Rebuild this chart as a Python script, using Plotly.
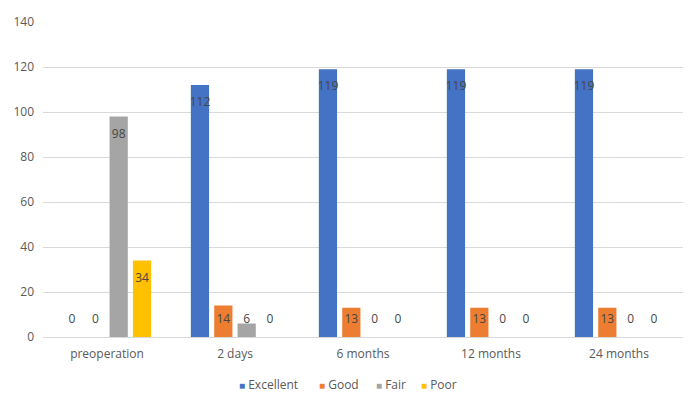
import plotly.graph_objects as go

categories = ["preoperation", "2 days", "6 months", "12 months", "24 months"]
series_names = ["Excellent", "Good", "Fair", "Poor"]
excellent = [0, 112, 119, 119, 119]
good = [0, 14, 13, 13, 13]
fair = [98, 6, 0, 0, 0]
poor = [34, 0, 0, 0, 0]
y_ticks = [0, 20, 40, 60, 80, 100, 120, 140]

colors = ["#4472C4", "#ED7D31", "#A5A5A5", "#FFC000"]
legend_x = [0.2438, 0.3688, 0.4578, 0.5281]
legend_ids = ["legend", "legend2", "legend3", "legend4"]
font_family = "Open Sans, Noto Sans, sans-serif"

# label placement, in axis units: just inside the bar end, but never lower than a floor
LABEL_INSET = 8.0
LABEL_FLOOR = 7.5

fig = go.Figure()
for i, (name, vals, col, lid) in enumerate(zip(series_names, [excellent, good, fair, poor],
                                               colors, legend_ids)):
    fig.add_trace(go.Bar(
        x=categories, y=vals, name=name,
        marker=dict(color=col, line=dict(width=0)),
        offsetgroup=str(i),
        showlegend=False, hoverinfo="x+y",
    ))
    label_y = [max(v - LABEL_INSET, LABEL_FLOOR) for v in vals]
    fig.add_trace(go.Scatter(
        x=categories, y=label_y, mode="markers+text",
        offsetgroup=str(i),
        text=[str(v) for v in vals], textposition="middle center",
        textfont=dict(color="#474747", size=12, family=font_family),
        marker=dict(size=0.1, opacity=0, color="rgba(0,0,0,0)",
                    line=dict(width=0, color="rgba(0,0,0,0)")),
        name=f'<span style="color:{col};font-size:10px">■</span> {name}',
        showlegend=True, legend=lid, hoverinfo="skip", cliponaxis=False,
    ))

legend_common = dict(orientation="h", y=-0.149, yanchor="middle", xanchor="left",
                     font=dict(size=12, color="#595959"), itemwidth=30,
                     bgcolor="rgba(0,0,0,0)", borderwidth=0)
layout_legends = {lid: dict(x=lx, **legend_common) for lid, lx in zip(legend_ids, legend_x)}

fig.update_layout(
    width=700, height=410,
    margin=dict(l=35, r=25, t=14, b=81),
    barmode="group", bargap=0.27, bargroupgap=0.22,
    scattermode="group", scattergap=0.27,
    plot_bgcolor="white", paper_bgcolor="white",
    font=dict(family=font_family, color="#595959", size=12),
    showlegend=True,
    **layout_legends,
)
fig.update_yaxes(range=[0, 140], tickvals=y_ticks, showgrid=True, gridcolor="#D9D9D9",
                 gridwidth=1, zeroline=False, showline=False, ticks="",
                 automargin=False, ticklabelstandoff=8,
                 tickfont=dict(size=12, color="#595959"))
fig.update_xaxes(showgrid=False, showline=True, linecolor="#D9D9D9", ticks="",
                 automargin=False, ticklabelstandoff=6,
                 tickfont=dict(size=12, color="#595959"))

fig.write_html("out.html")
